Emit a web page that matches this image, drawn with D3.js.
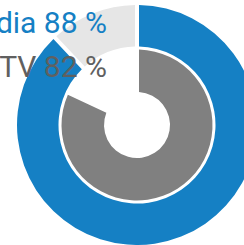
<!DOCTYPE html>
<html><head><meta charset="utf-8">
<script src="https://cdn.jsdelivr.net/npm/d3@7/dist/d3.min.js"></script>
<style>html,body{margin:0;padding:0;background:#fff;overflow:hidden}svg{display:block}</style>
</head><body>
<script>
const categories = ["Social Media", "TV"];
const values = [88, 82];
const colors = ["#1580c4", "#808080"];
const trackColors = ["#e6e6e6", "none"];
const textColors = ["#1580c4", "#606060"];

const W = 244, H = 245, cx = 137, cy = 125;
const svg = d3.select("body").append("svg").attr("width", W).attr("height", H);
const g = svg.append("g").attr("transform", `translate(${cx},${cy})`);

const angle = d3.scaleLinear().domain([0, 100]).range([0, 2 * Math.PI]);
const rings = [[78.5, 120], [33, 75.5]];

categories.forEach((c, i) => {
  const arc = d3.arc().innerRadius(rings[i][0]).outerRadius(rings[i][1])
    .padAngle(0.04).padRadius(100);
  if (trackColors[i] !== "none") {
    g.append("path").attr("d", arc({startAngle: angle(values[i]), endAngle: angle(100)}))
      .attr("fill", trackColors[i]);
  }
  g.append("path").attr("d", arc({startAngle: angle(0), endAngle: angle(values[i])}))
    .attr("fill", colors[i]);
});

const labelY = [33, 77];
categories.forEach((c, i) => {
  svg.append("text").attr("x", 107).attr("y", labelY[i])
    .attr("text-anchor", "end")
    .attr("font-family", "Roboto, sans-serif").attr("font-size", 30)
    .attr("fill", textColors[i])
    .text(`${c} ${values[i]} %`);
});
</script>
</body></html>
